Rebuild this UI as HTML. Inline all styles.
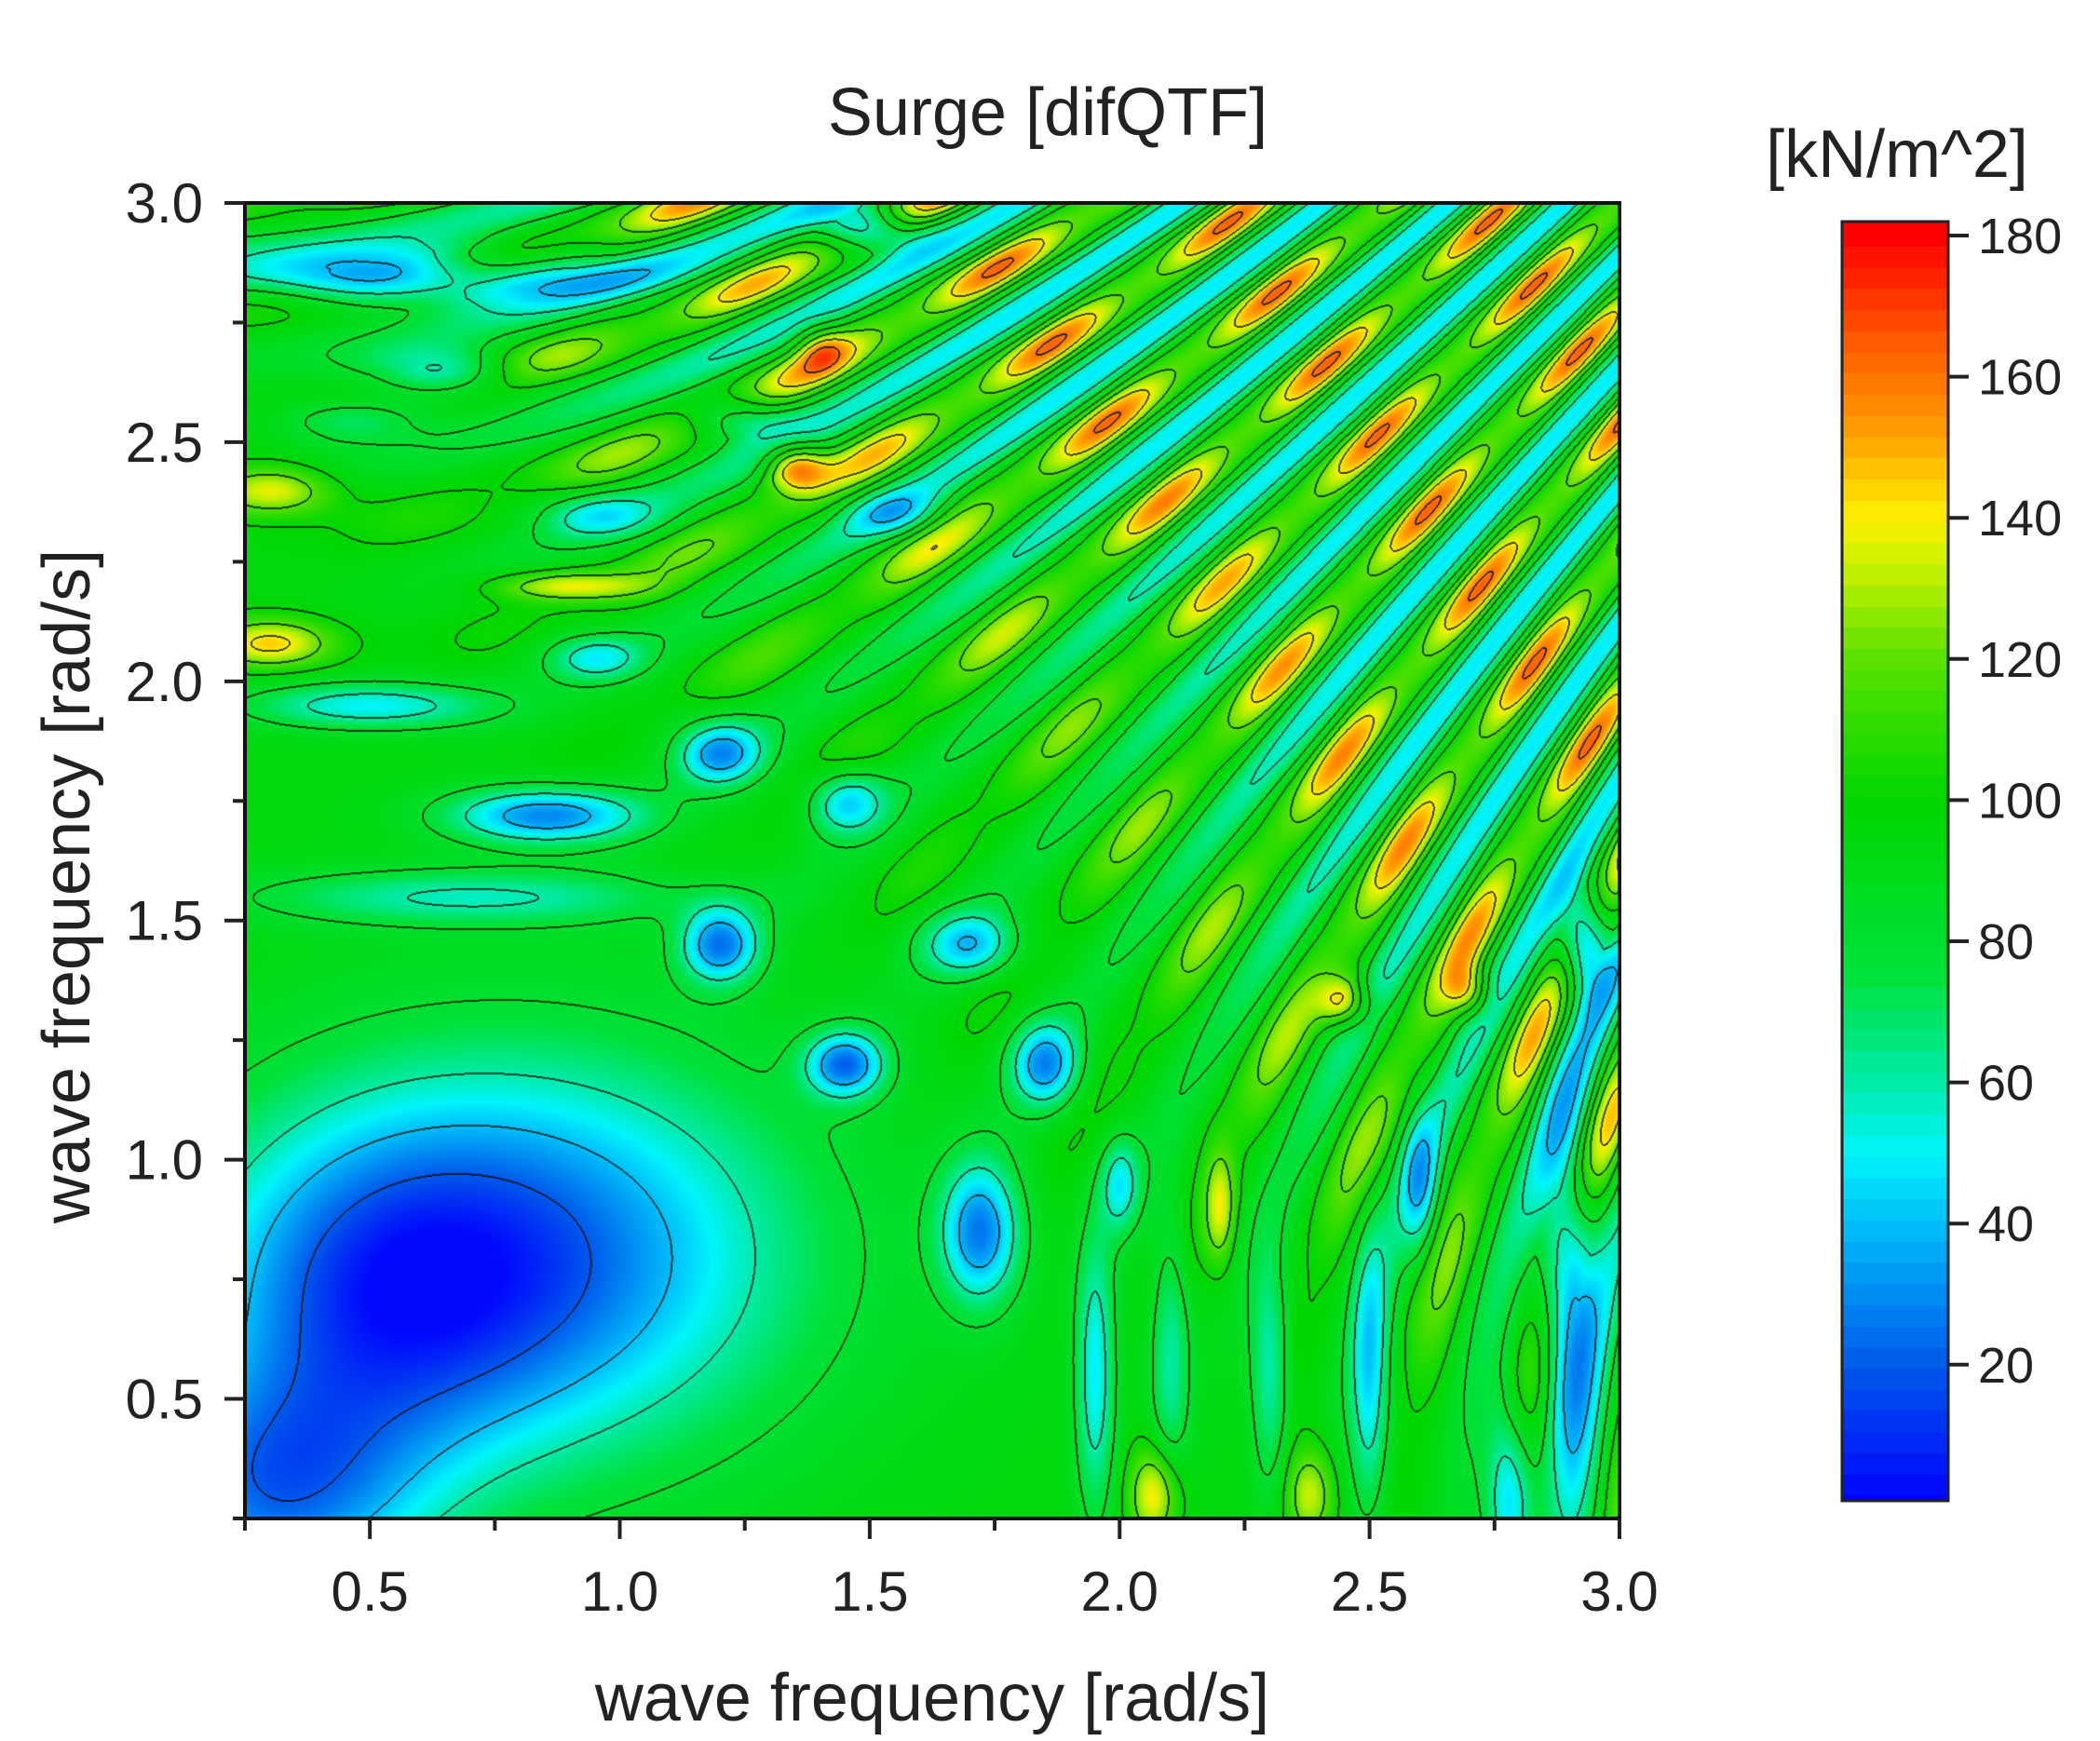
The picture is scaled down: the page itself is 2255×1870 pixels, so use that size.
<!DOCTYPE html>
<html><head><meta charset="utf-8"><style>
html,body{margin:0;padding:0;background:#fff;width:2255px;height:1870px;overflow:hidden}
#c{position:absolute;left:263px;top:218px;width:1476px;height:1413px}
#cb{position:absolute;left:1978px;top:238px;width:114px;height:1374px}
svg{position:absolute;left:0;top:0}
text{font-family:"Liberation Sans",Arial,sans-serif;fill:#222}
</style></head><body>
<canvas id="c" width="1476" height="1413"></canvas>
<canvas id="cb" width="114" height="1374"></canvas>
<svg width="2255" height="1870" xmlns="http://www.w3.org/2000/svg">
<rect x="263" y="218" width="1476" height="1413" fill="none" stroke="#111" stroke-width="4"/>
<rect x="1978" y="238" width="114" height="1374" fill="none" stroke="#222" stroke-width="3"/>
<g stroke="#222" stroke-width="4" id="ticks"></g>
<text x="1125" y="145" font-size="72" text-anchor="middle">Surge [difQTF]</text>
<text x="2037" y="190" font-size="72" text-anchor="middle">[kN/m^2]</text>
<text x="1001" y="1848" font-size="72" text-anchor="middle">wave frequency [rad/s]</text>
<text transform="translate(96,952) rotate(-90)" font-size="72" text-anchor="middle">wave frequency [rad/s]</text>
<g font-size="60" text-anchor="middle" id="xl"></g>
<g font-size="60" text-anchor="end" id="yl"></g>
<g font-size="54" text-anchor="start" id="cl"></g>
</svg>
<script>
function ss(a,b,x){var t=Math.min(1,Math.max(0,(x-a)/(b-a)));return t*t*(3-2*t);}
function g(x,y,cx,cy,sx,sy){var dx=(x-cx)/sx,dy=(y-cy)/sy;return Math.exp(-(dx*dx+dy*dy));}
function f(x,y){
 var s=x+y,d=x-y;
 var amp=62*ss(2.3,4.6,s)*(0.55+0.45*ss(1.6,2.6,Math.max(x,y)));
 var ph=4.9*d*s;
 var st=Math.cos(ph);
 var bump=0.65+0.35*Math.cos(10*s+2*d);
 var v=95+amp*(st>0?st*bump*1.1:st*0.75);
 v-=72*g(x,y,0.8,0.8,0.55,0.42);
 v-=60*g(x,y,0.3,0.3,0.3,0.25);
 v-=40*g(x,y,0.5,0.7,0.35,0.35);
 var B=[[1.2,1.85,.09,.07,60],[0.85,1.72,.2,.06,65],[1.2,1.45,.08,.08,65],[1.45,1.2,.08,.07,65],[1.85,1.2,.07,.09,60],
 [1.72,0.85,.08,.15,65],[1.45,1.75,.08,.07,50],[1.7,1.45,.1,.07,50],[0.95,2.05,.1,.05,40],[0.95,2.35,.12,.05,35],
 [1.25,2.55,.1,.05,35],[0.65,2.65,.15,.05,40],[0.45,2.55,.15,.05,35],[0.6,2.85,.4,.06,70],[1.5,2.95,.1,.05,60],
 [0.5,1.95,.25,.05,45],[0.7,1.55,.45,.06,35],[2.93,1.45,.05,.12,60],[2.9,0.7,.06,.45,60],[2.78,0.3,.05,.2,55],
 [2.5,0.55,.04,.3,45],[2.3,0.55,.04,.25,40],[2.1,0.6,.04,.3,35],[1.95,0.55,.04,.3,45],[2.0,0.95,.04,.1,40],[2.6,0.95,.04,.15,40],[1.55,2.35,.1,.05,30]];
 for(var i=0;i<B.length;i++){var b=B[i];v-=b[4]*g(x,y,b[0],b[1],b[2],b[3]);}
 var P=[[0.3,2.4,.12,.05,45],[0.3,2.08,.12,.05,50],[0.9,2.2,.15,.03,40],[2.07,0.3,.05,.1,50],[2.38,0.3,.05,.1,40],[2.2,0.9,.03,.12,40],[1.35,2.45,.06,.05,60],[1.4,2.7,.05,.05,30],[2.45,1.33,.05,.05,50],[2.7,1.35,.04,.05,40]];
 for(i=0;i<P.length;i++){var p=P[i];v+=p[4]*g(x,y,p[0],p[1],p[2],p[3]);}
 return Math.max(2,Math.min(182,v));
}
var CM=[[0,0,0,255],[20,0,90,235],[40,0,190,250],[50,0,245,250],[60,0,235,170],[75,0,225,60],[100,0,215,0],[120,90,225,0],[132,190,240,0],[140,255,240,0],[152,255,160,0],[165,255,90,0],[180,255,0,0],[200,255,0,0]];
function col(v){for(var i=0;i<CM.length-1;i++){if(v<=CM[i+1][0]){var t=(v-CM[i][0])/(CM[i+1][0]-CM[i][0]);return [CM[i][1]+t*(CM[i+1][1]-CM[i][1]),CM[i][2]+t*(CM[i+1][2]-CM[i][2]),CM[i][3]+t*(CM[i+1][3]-CM[i][3])];}}return [255,0,0];}
var cv=document.getElementById('c'),ctx=cv.getContext('2d'),W=1476,H=1413;
var im=ctx.createImageData(W,H),D=im.data,V=new Float32Array(W*H);
for(var j=0;j<H;j++){var y=3-j/H*2.75;for(var i=0;i<W;i++){V[j*W+i]=f(0.25+i/W*2.75,y);}}
for(j=0;j<H;j++)for(i=0;i<W;i++){var k=j*W+i,v=V[k],c=col(v);
 var lv=Math.floor(v/20),line=false;
 if(i<W-1&&Math.floor(V[k+1]/20)!=lv)line=true;
 if(j<H-1&&Math.floor(V[k+W]/20)!=lv)line=true;
 if(i>0&&Math.floor(V[k-1]/20)!=lv)line=true;
 if(j>0&&Math.floor(V[k-W]/20)!=lv)line=true;
 if(line){c=[c[0]*0.2,c[1]*0.3,c[2]*0.25];}
 D[k*4]=c[0];D[k*4+1]=c[1];D[k*4+2]=c[2];D[k*4+3]=255;}
ctx.putImageData(im,0,0);
var cb=document.getElementById('cb'),cx2=cb.getContext('2d');
for(j=0;j<1374;j++){var vv=182-j/1374*181.3;var c2=col(Math.round(vv/3)*3);cx2.fillStyle='rgb('+(c2[0]|0)+','+(c2[1]|0)+','+(c2[2]|0)+')';cx2.fillRect(0,j,114,1);}
var NS='http://www.w3.org/2000/svg',tk=document.getElementById('ticks');
function ln(x1,y1,x2,y2){var l=document.createElementNS(NS,'line');l.setAttribute('x1',x1);l.setAttribute('y1',y1);l.setAttribute('x2',x2);l.setAttribute('y2',y2);tk.appendChild(l);}
function tx(gid,x,y,s){var t=document.createElementNS(NS,'text');t.setAttribute('x',x);t.setAttribute('y',y);t.textContent=s;document.getElementById(gid).appendChild(t);}
for(var q=0.25;q<=3.001;q+=0.25){var X=263+(q-0.25)/2.75*1476;var maj=Math.abs(q*2-Math.round(q*2))<0.01;ln(X,1631,X,1631+(maj?22:13));
 var Y=1631-(q-0.25)/2.75*1413;ln(263,Y,263-(maj?22:13),Y);
 if(maj){tx('xl',X,1730,q.toFixed(1));tx('yl',218,Y+21,q.toFixed(1));}}
for(var cvv=20;cvv<=180;cvv+=20){var Yc=253+(180-cvv)/20*151.6;ln(2092,Yc,2114,Yc);tx('cl',2124,Yc+19,String(cvv));}
</script>
</body></html>
